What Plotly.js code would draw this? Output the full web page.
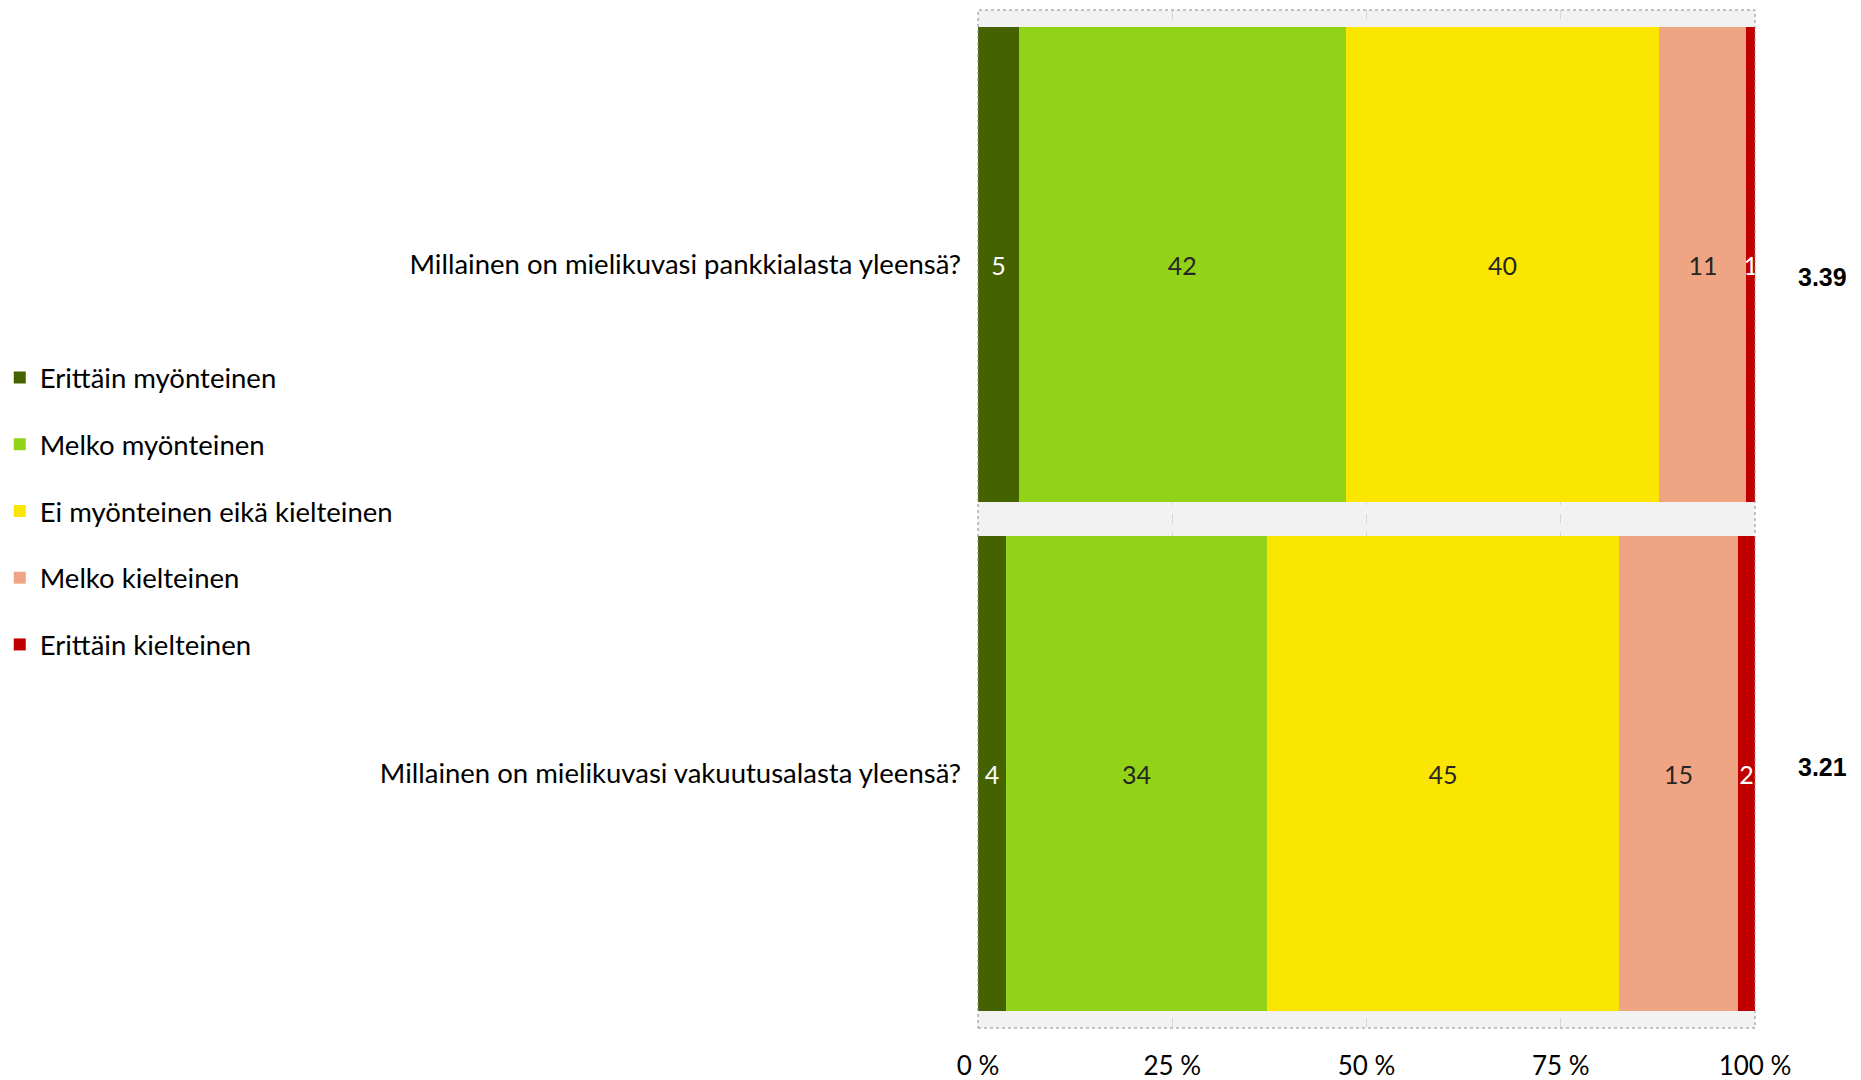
<!DOCTYPE html>
<html>
<head>
<meta charset="utf-8">
<script src="https://cdn.plot.ly/plotly-3.0.1.min.js"></script>
<style>
  html, body { margin: 0; padding: 0; background: #ffffff; }
  #chart { width: 1861px; height: 1080px; }
</style>
</head>
<body>
<div id="chart"></div>
<script>
// ---- data ----
const questions = [
  "Millainen on mielikuvasi pankkialasta yleensä?",
  "Millainen on mielikuvasi vakuutusalasta yleensä?"
];
const seriesNames = [
  "Erittäin myönteinen",
  "Melko myönteinen",
  "Ei myönteinen eikä kielteinen",
  "Melko kielteinen",
  "Erittäin kielteinen"
];
const erittainMyonteinen = [5.3, 3.6];
const melkoMyonteinen    = [42.0, 33.6];
const eiKumpikaan        = [40.4, 45.3];
const melkoKielteinen    = [11.2, 15.3];
const erittainKielteinen = [1.1, 2.2];
const means = ["3.39", "3.21"];
const xTicks = [0, 25, 50, 75, 100];

// ---- styling ----
const colors = ["#456200", "#92D317", "#FAE600", "#EFA583", "#C00000"];
const textColors = ["#ffffff", "#262626", "#262626", "#262626", "#ffffff"];
const FONT = "Lato, 'Open Sans', 'Liberation Sans', sans-serif";

const seriesValues = [erittainMyonteinen, melkoMyonteinen, eiKumpikaan, melkoKielteinen, erittainKielteinen];

const traces = seriesValues.map((vals, i) => ({
  type: "bar",
  orientation: "h",
  name: seriesNames[i],
  y: questions,
  x: vals,
  marker: { color: colors[i], line: { width: 0 } },
  text: vals.map(v => Math.round(v).toString()),
  texttemplate: "%{text}",
  textposition: "inside",
  insidetextanchor: "middle",
  constraintext: "none",
  cliponaxis: false,
  insidetextfont: { family: FONT, size: 25, color: textColors[i] },
  legendgroup: "g" + i,
  hoverinfo: "name+x"
}));

const annotations = questions.map((q, i) => ({
  xref: "paper", yref: "y",
  x: 1.0875, y: q,
  yshift: i === 0 ? -12 : 7,
  text: means[i],
  showarrow: false,
  font: { family: "'Liberation Sans Narrow', 'Liberation Sans', sans-serif", size: 25, color: "#000000", weight: "bold" },
  xanchor: "center"
}));

const layout = {
  width: 1861,
  height: 1080,
  margin: { l: 978, r: 106, t: 10, b: 52, autoexpand: false },
  paper_bgcolor: "#ffffff",
  plot_bgcolor: "#f2f2f2",
  barmode: "stack",
  bargap: 0.065,
  showlegend: true,
  legend: {
    x: -1.259, xanchor: "left",
    y: 0.663, yanchor: "top",
    traceorder: "grouped",
    tracegroupgap: 28,
    font: { family: FONT, size: 27.5, color: "#000000" },
    bgcolor: "rgba(0,0,0,0)"
  },
  xaxis: {
    range: [0, 100],
    tickvals: xTicks,
    ticktext: xTicks.map(v => v + " %"),
    showgrid: true,
    gridcolor: "#d6d6d6",
    griddash: "dash",
    gridwidth: 1,
    zeroline: false,
    showline: false,
    ticks: "",
    ticklabelstandoff: 20,
    tickfont: { family: FONT, size: 26, color: "#000000" },
    fixedrange: true
  },
  yaxis: {
    type: "category",
    autorange: "reversed",
    showgrid: false,
    zeroline: false,
    ticks: "",
    ticklabelstandoff: 16,
    tickfont: { family: FONT, size: 27.5, color: "#000000" },
    fixedrange: true
  },
  shapes: [{
    type: "rect", xref: "paper", yref: "paper",
    x0: 0, x1: 1, y0: 0, y1: 1,
    line: { color: "#8c8c8c", width: 1, dash: "dot" },
    fillcolor: "rgba(0,0,0,0)",
    layer: "above"
  }],
  annotations: annotations
};

Plotly.newPlot("chart", traces, layout, { displayModeBar: false, staticPlot: true });
</script>
</body>
</html>
